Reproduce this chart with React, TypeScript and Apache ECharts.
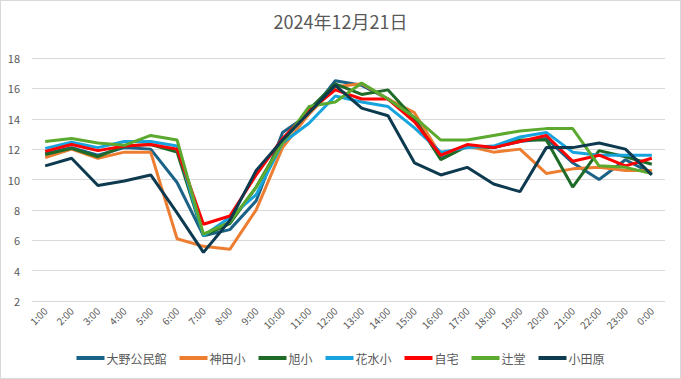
import React, { useEffect, useRef } from "react";
import * as echarts from "echarts";

const title = "2024年12月21日";
const hours = ["1:00","2:00","3:00","4:00","5:00","6:00","7:00","8:00","9:00","10:00","11:00","12:00","13:00","14:00","15:00","16:00","17:00","18:00","19:00","20:00","21:00","22:00","23:00","0:00"];

const seriesNames = ["大野公民館", "神田小", "旭小", "花水小", "自宅", "辻堂", "小田原"];
const seriesColors = ["#1b6287", "#ed7d31", "#1e6b28", "#17a3dd", "#ff0000", "#5ba92e", "#0d3a4f"];

const ono = [11.7, 12.1, 11.6, 12.1, 12.0, 9.8, 6.3, 6.7, 8.6, 13.1, 14.3, 16.5, 16.2, 15.3, 14.0, 11.5, 12.2, 12.1, 12.5, 12.7, 11.1, 10.0, 11.3, 10.4];
const kanda = [11.45, 12.0, 11.4, 11.8, 11.8, 6.1, 5.6, 5.4, 8.0, 12.1, 14.3, 16.1, 16.3, 15.3, 14.4, 11.6, 12.2, 11.8, 12.0, 10.4, 10.7, 10.8, 10.6, 10.6];
const asahi = [11.65, 12.05, 11.5, 12.2, 12.3, 11.8, 6.3, 7.1, 9.5, 12.5, 14.6, 16.3, 15.6, 15.9, 14.0, 11.3, 12.2, 12.1, 12.6, 12.6, 9.5, 11.9, 11.5, 11.0];
const hanamizu = [12.05, 12.45, 12.1, 12.5, 12.5, 12.2, 6.3, 7.5, 9.0, 12.4, 13.7, 15.5, 15.1, 14.8, 13.4, 11.8, 12.1, 12.2, 12.8, 13.1, 11.8, 11.6, 11.6, 11.6];
const jitaku = [11.85, 12.3, 11.9, 12.2, 12.3, 12.0, 7.05, 7.6, 10.3, 12.7, 14.5, 15.9, 15.3, 15.3, 13.8, 11.6, 12.3, 12.1, 12.5, 12.9, 11.2, 11.6, 10.9, 11.4];
const tsujido = [12.5, 12.7, 12.4, 12.25, 12.9, 12.6, 6.4, 7.2, 9.5, 12.4, 14.8, 15.1, 16.35, 15.3, 14.1, 12.6, 12.6, 12.9, 13.2, 13.35, 13.35, 10.9, 10.8, 10.4];
const odawara = [10.9, 11.4, 9.6, 9.9, 10.3, 7.8, 5.2, 7.3, 10.6, 12.6, 14.4, 16.2, 14.7, 14.2, 11.1, 10.3, 10.8, 9.7, 9.2, 12.1, 12.1, 12.4, 12.0, 10.3];

const seriesData = [ono, kanda, asahi, hanamizu, jitaku, tsujido, odawara];

const FONT = "'Noto Sans CJK JP', 'Noto Sans', sans-serif";

export default function App() {
  const ref = useRef<HTMLDivElement>(null);
  useEffect(() => {
    document.body.style.margin = "0";
    if (!ref.current) return;
    const chart = echarts.init(ref.current, undefined, { renderer: "svg" });
    chart.setOption({
      animation: false,
      backgroundColor: "#ffffff",
      textStyle: { fontFamily: FONT },
      title: {
        text: title,
        left: "center",
        top: 6,
        textStyle: { fontSize: 18, fontWeight: "normal", color: "#595959", fontFamily: FONT },
      },
      legend: {
        bottom: 9,
        left: "center",
        itemWidth: 28,
        itemHeight: 4,
        itemGap: 13,
        icon: "rect",
        textStyle: { fontSize: 12, color: "#595959", fontFamily: FONT, padding: [0, 0, 0, -3] },
        data: seriesNames,
      },
      grid: { left: 31, right: 15, top: 57, bottom: 77, containLabel: false },
      xAxis: {
        type: "category",
        data: hours,
        boundaryGap: true,
        axisLine: { show: false },
        axisTick: { show: false },
        axisLabel: { rotate: 45, fontSize: 10, color: "#595959", margin: 8, interval: 0 },
      },
      yAxis: {
        type: "value",
        min: 2,
        max: 18,
        interval: 2,
        axisLine: { show: false },
        axisTick: { show: false },
        axisLabel: { fontSize: 11, color: "#595959", margin: 12 },
        splitLine: { lineStyle: { color: "#d9d9d9", width: 1 } },
      },
      series: seriesNames.map((name, i) => ({
        name,
        type: "line",
        data: seriesData[i],
        symbol: "none",
        lineStyle: { width: 3, color: seriesColors[i] },
        itemStyle: { color: seriesColors[i] },
      })),
    });
    return () => chart.dispose();
  }, []);
  return (
    <div
      ref={ref}
      style={{
        width: 681,
        height: 379,
        boxSizing: "border-box",
        border: "1px solid #d9d9d9",
        position: "absolute",
        left: 0,
        top: 0,
      }}
    />
  );
}
